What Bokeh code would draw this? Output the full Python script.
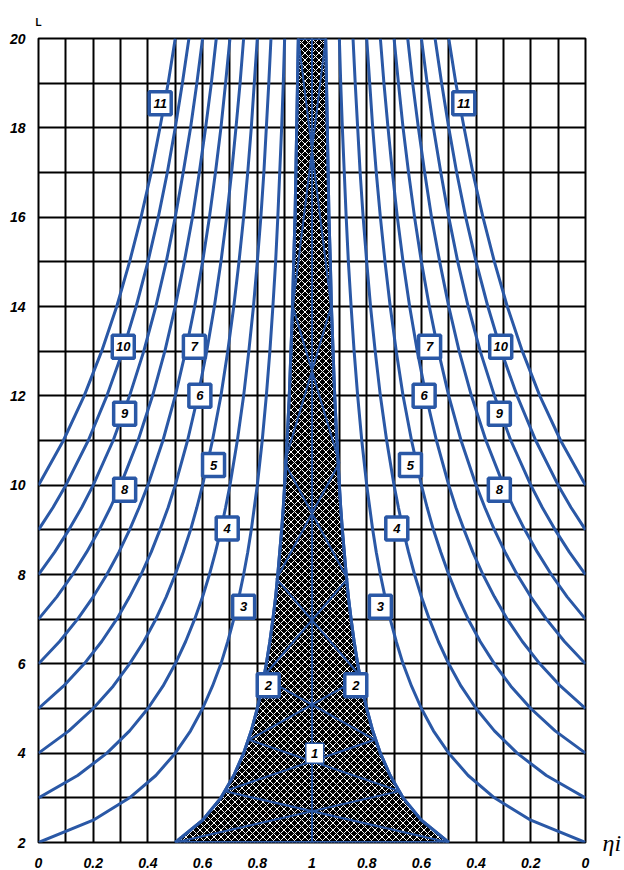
from bokeh.plotting import figure
from bokeh.models import SingleIntervalTicker, FixedTicker, ColumnDataSource, LinearAxis
from bokeh.embed import file_html
from bokeh.resources import INLINE
from bokeh.core.properties import value

# ---------------- data ----------------
L_pts = [2, 2.5, 3, 3.5, 4, 4.5, 5, 5.5, 6, 6.5, 7, 7.5, 8, 8.5, 9, 9.5, 10,
         11, 12, 13, 14, 15, 16, 17, 18, 19, 20]

# eta values of each curve, ending at L = 20 (curve starts where its list starts)
eta_2 = [0.500, 0.600, 0.667, 0.714, 0.750, 0.778, 0.800, 0.818, 0.833, 0.846, 0.857,
         0.867, 0.875, 0.882, 0.889, 0.895, 0.900, 0.909, 0.917, 0.923, 0.929, 0.933,
         0.938, 0.941, 0.944, 0.947, 0.950]
eta_3 = [0.000, 0.200, 0.333, 0.429, 0.500, 0.556, 0.600, 0.636, 0.667, 0.692, 0.714,
         0.733, 0.750, 0.765, 0.778, 0.789, 0.800, 0.818, 0.833, 0.846, 0.857, 0.867,
         0.875, 0.882, 0.889, 0.895, 0.900]
eta_4 = [0.000, 0.143, 0.250, 0.333, 0.400, 0.455, 0.500, 0.538, 0.571, 0.600, 0.625,
         0.647, 0.667, 0.684, 0.700, 0.727, 0.750, 0.769, 0.786, 0.800, 0.813, 0.824,
         0.833, 0.842, 0.850]
eta_5 = [0.000, 0.111, 0.200, 0.273, 0.333, 0.385, 0.429, 0.467, 0.500, 0.529, 0.556,
         0.579, 0.600, 0.636, 0.667, 0.692, 0.714, 0.733, 0.750, 0.765, 0.778, 0.789,
         0.800]
eta_6 = [0.000, 0.091, 0.167, 0.231, 0.286, 0.333, 0.375, 0.412, 0.444, 0.474, 0.500,
         0.545, 0.583, 0.615, 0.643, 0.667, 0.688, 0.706, 0.722, 0.737, 0.750]
eta_7 = [0.000, 0.077, 0.143, 0.200, 0.250, 0.294, 0.333, 0.368, 0.400, 0.455, 0.500,
         0.538, 0.571, 0.600, 0.625, 0.647, 0.667, 0.684, 0.700]
eta_8 = [0.000, 0.067, 0.125, 0.176, 0.222, 0.263, 0.300, 0.364, 0.417, 0.462, 0.500,
         0.533, 0.563, 0.588, 0.611, 0.632, 0.650]
eta_9 = [0.000, 0.059, 0.111, 0.158, 0.200, 0.273, 0.333, 0.385, 0.429, 0.467, 0.500,
         0.529, 0.556, 0.579, 0.600]
eta_10 = [0.000, 0.053, 0.100, 0.182, 0.250, 0.308, 0.357, 0.400, 0.438, 0.471, 0.500,
          0.526, 0.550]
eta_11 = [0.000, 0.091, 0.167, 0.231, 0.286, 0.333, 0.375, 0.412, 0.444, 0.474, 0.500]

# curve 1: eta = 1 (centre line)
curve_1_L = [2, 20]
eta_1 = [1.0, 1.0]

# zigzag (ray) inside the shaded zone: bounce heights and boundary eta
zig_L = [2, 3.15, 4.3, 5.7, 7.9, 10.5, 14, 20]
zig_eta = [0.50, 0.68, 0.77, 0.82, 0.87, 0.90, 0.93, 0.95]

# curve labels: number, eta, L
label_num = ["2", "3", "4", "5", "6", "7", "8", "9", "10", "11"]
label_eta = [0.84, 0.75, 0.69, 0.64, 0.59, 0.57, 0.315, 0.315, 0.31, 0.445]
label_L = [5.52, 7.28, 9.03, 10.45, 12.0, 13.1, 9.9, 11.6, 13.1, 18.55]
label1_eta = 1.01
label1_L = 4.0

x_tick_pos = [0, 0.2, 0.4, 0.6, 0.8, 1.0, 1.2, 1.4, 1.6, 1.8, 2.0]
x_tick_labels = ["0", "0.2", "0.4", "0.6", "0.8", "1", "0.8", "0.6", "0.4", "0.2", "0"]
y_tick_pos = [2, 4, 6, 8, 10, 12, 14, 16, 18, 20]
y_title = "L"
x_title = "ηi"

BLUE = "#2a58a6"
FONT = "Liberation Sans"

# ---------------- figure ----------------
p = figure(frame_width=547, frame_height=804, x_range=(0, 2), y_range=(2, 20),
           output_backend="svg", toolbar_location=None,
           min_border_left=38, min_border_right=20, min_border_top=38, min_border_bottom=27)
p.background_fill_color = "white"
p.border_fill_color = "white"
p.outline_line_color = "black"
p.outline_line_width = 2

p.xgrid.ticker = SingleIntervalTicker(interval=0.1, num_minor_ticks=0)
p.ygrid.ticker = SingleIntervalTicker(interval=1, num_minor_ticks=0)
for g in (p.xgrid, p.ygrid):
    g.grid_line_color = "black"
    g.grid_line_width = 2
    g.grid_line_alpha = 1.0

bottom_ax = p.xaxis[0]
left_ax = p.yaxis[0]
bottom_ax.ticker = FixedTicker(ticks=x_tick_pos)
bottom_ax.major_label_overrides = {t: s for t, s in zip(x_tick_pos, x_tick_labels)}
left_ax.ticker = FixedTicker(ticks=y_tick_pos)

# title axes: "L" above the left edge, "ηi" right of the bottom edge
top_ax = LinearAxis(ticker=FixedTicker(ticks=[0]), major_label_overrides={0: y_title})
right_ax = LinearAxis(ticker=FixedTicker(ticks=[2]), major_label_overrides={2: x_title})
p.add_layout(top_ax, "above")
p.add_layout(right_ax, "right")

for ax in (bottom_ax, left_ax, top_ax, right_ax):
    ax.axis_line_color = None
    ax.major_tick_line_color = None
    ax.minor_tick_line_color = None
    ax.major_label_text_color = "black"
for ax in (bottom_ax, left_ax):
    ax.major_label_text_font = FONT
    ax.major_label_text_font_style = "bold italic"
    ax.major_label_text_font_size = "14px"
bottom_ax.major_label_standoff = 9
left_ax.major_label_standoff = 7

top_ax.major_label_text_font = FONT
top_ax.major_label_text_font_style = "bold"
top_ax.major_label_text_font_size = "10px"
top_ax.major_label_standoff = 5

right_ax.major_label_text_font = "Liberation Serif"
right_ax.major_label_text_font_style = "italic"
right_ax.major_label_text_font_size = "24px"
right_ax.major_label_standoff = 11

# shaded zone between curve 2 and its mirror
zone_x = list(eta_2) + [2 - e for e in reversed(eta_2)]
zone_y = list(L_pts) + list(reversed(L_pts))
p.patch(zone_x, zone_y, fill_color="black", line_color=BLUE, line_width=3,
        hatch_pattern="x", hatch_color="white", hatch_scale=7, hatch_weight=1)

# zigzag rays
rayA = [e if i % 2 == 0 else 2 - e for i, e in enumerate(zig_eta)]
rayB = [2 - x for x in rayA]
p.line(rayA, zig_L, line_color=BLUE, line_width=2)
p.line(rayB, zig_L, line_color=BLUE, line_width=2)

# curve 1
p.line(eta_1, curve_1_L, line_color=BLUE, line_width=2)

# curves 2..11, left and mirrored right
for eta in (eta_2, eta_3, eta_4, eta_5, eta_6, eta_7, eta_8, eta_9, eta_10, eta_11):
    Ls = L_pts[len(L_pts) - len(eta):]
    p.line(eta, Ls, line_color=BLUE, line_width=3)
    p.line([2 - e for e in eta], Ls, line_color=BLUE, line_width=3)

# label boxes
lab = ColumnDataSource(dict(
    x=label_eta + [2 - e for e in label_eta],
    y=label_L + label_L,
    t=label_num + label_num))
p.rect("x", "y", width=22, height=23, width_units="screen", height_units="screen",
       source=lab, fill_color="white", line_color=BLUE, line_width=3.5)
p.text("x", "y", text="t", source=lab, text_align="center", text_baseline="middle",
       text_font=value(FONT), text_font_style="bold italic", text_font_size="13px",
       text_color="black")
p.rect([label1_eta], [label1_L], width=18, height=20, width_units="screen",
       height_units="screen", fill_color="white", line_color=BLUE, line_width=1.5)
p.text([label1_eta], [label1_L], text=["1"], text_align="center", text_baseline="middle",
       text_font=value(FONT), text_font_style="bold italic", text_font_size="13px",
       text_color="black")

open("out.html", "w").write(file_html(p, INLINE))
